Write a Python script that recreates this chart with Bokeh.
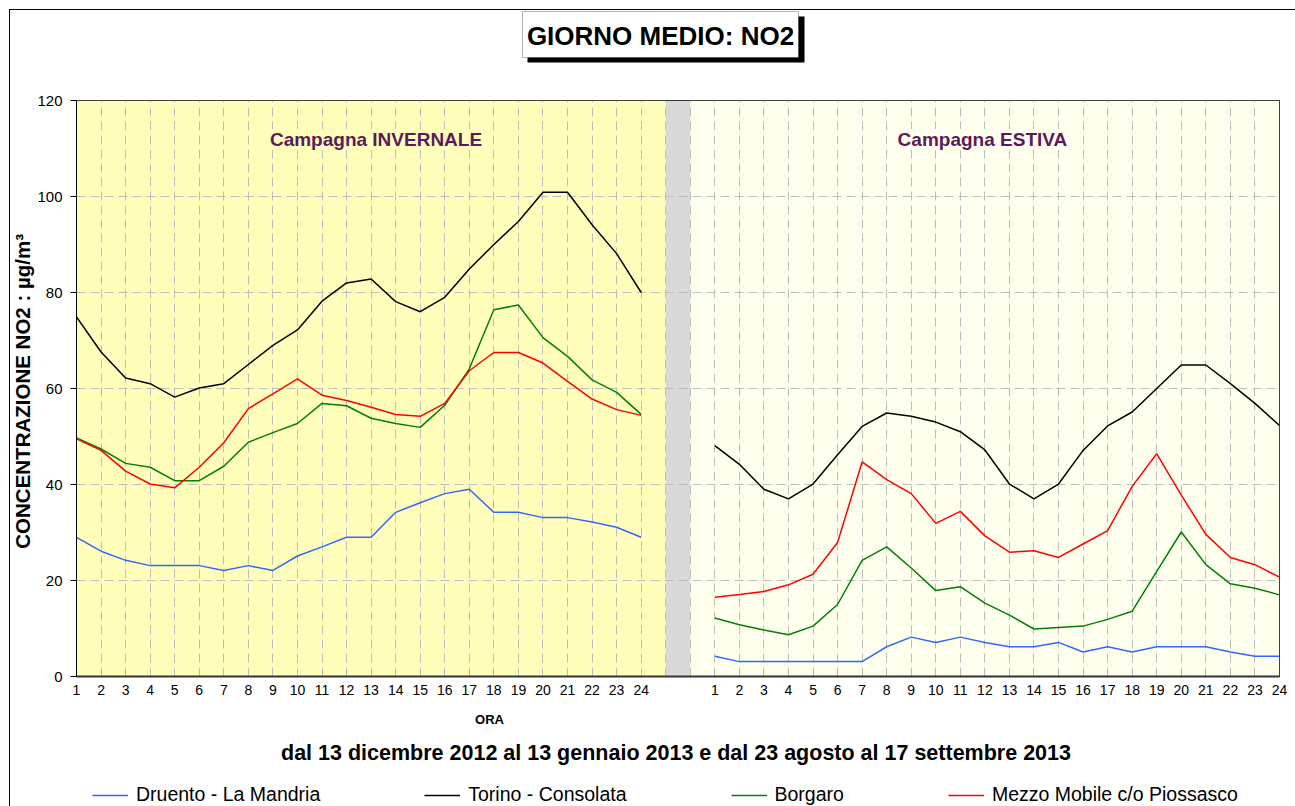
import math
from bokeh.plotting import figure
from bokeh.layouts import column
from bokeh.models import (Range1d, FixedTicker, Label, Legend, LegendItem, BoxAnnotation)
from bokeh.embed import file_html
from bokeh.resources import INLINE

# ---------------- data ----------------
hours = [str(h) for h in range(1, 25)]
y_ticks = [0, 20, 40, 60, 80, 100, 120]

series_names = ["Druento - La Mandria", "Torino - Consolata", "Borgaro",
                "Mezzo Mobile c/o Piossasco"]
series_colors = ["#3366FF", "#000000", "#008000", "#FF0000"]

winter_druento = [29.0, 26.1, 24.2, 23.1, 23.1, 23.1, 22.1, 23.1, 22.1, 25.1, 27.0, 29.0,
                  29.0, 34.2, 36.2, 38.1, 39.0, 34.2, 34.2, 33.1, 33.1, 32.2, 31.1, 29.0]
winter_torino = [74.9, 67.6, 62.2, 61.0, 58.2, 60.1, 61.0, 65.0, 69.0, 72.2, 78.2, 82.0,
                 82.8, 78.1, 76.0, 79.0, 84.9, 90.0, 94.8, 100.9, 100.9, 94.1, 88.1, 80.0]
winter_borgaro = [49.7, 47.4, 44.4, 43.6, 40.8, 40.8, 43.8, 48.8, 50.8, 52.7, 56.9, 56.4,
                  53.8, 52.7, 51.9, 56.5, 64.1, 76.4, 77.4, 70.6, 66.7, 61.8, 59.2, 54.6]
winter_piossasco = [49.5, 47.1, 42.8, 40.1, 39.3, 43.6, 48.7, 55.8, 58.9, 62.0, 58.6, 57.5,
                    56.1, 54.6, 54.2, 56.9, 63.7, 67.5, 67.5, 65.3, 61.5, 57.8, 55.6, 54.4]

summer_druento = [4.2, 3.1, 3.1, 3.1, 3.1, 3.1, 3.1, 6.2, 8.2, 7.1, 8.2, 7.1,
                  6.2, 6.2, 7.1, 5.1, 6.2, 5.1, 6.2, 6.2, 6.2, 5.1, 4.2, 4.2]
summer_torino = [48.1, 44.2, 39.0, 37.0, 40.1, 46.2, 52.1, 54.9, 54.2, 53.0, 51.0, 47.2,
                 40.1, 37.0, 40.1, 47.1, 52.2, 55.1, 60.0, 64.9, 64.9, 61.0, 56.9, 52.3]
summer_borgaro = [12.2, 10.8, 9.7, 8.7, 10.5, 15.0, 24.2, 27.0, 22.6, 17.9, 18.7, 15.3,
                  12.8, 9.9, 10.2, 10.5, 11.9, 13.6, 21.9, 30.1, 23.3, 19.3, 18.4, 17.0]
summer_piossasco = [16.5, 17.1, 17.7, 19.1, 21.3, 27.9, 44.7, 41.0, 38.1, 31.9, 34.4, 29.3,
                    25.9, 26.2, 24.8, 27.6, 30.4, 39.6, 46.4, 37.8, 29.6, 24.8, 23.3, 20.7]

winter = [winter_druento, winter_torino, winter_borgaro, winter_piossasco]
summer = [summer_druento, summer_torino, summer_borgaro, summer_piossasco]

# ---------------- positions ----------------
n = len(hours)
gap = 2
s_off = n + gap
last = s_off + n - 1
x_all = list(range(n)) + [n + k for k in range(gap)] + [s_off + i for i in range(n)]
tick_pos = list(range(n)) + [s_off + i for i in range(n)]
overrides = {}
for i, h in enumerate(hours):
    overrides[i] = h
    overrides[s_off + i] = h

FONT = "Liberation Sans"
W = 1295
FRAME_L, FRAME_R = 76, 1279          # plot-area edges (page pixels), shared by the column
HEAD_H, MAIN_H, FOOT_H = 90, 614, 102
LEFT_SHADOW = "inset 9px 0 0 0 white, inset 10px 0 0 0 black"


def blank_fig(h, yr):
    f = figure(width=W, height=h, x_range=Range1d(FRAME_L, FRAME_R), y_range=yr,
               x_axis_type=None, y_axis_type=None, output_backend="svg",
               toolbar_location=None, title=None, min_border=0,
               min_border_left=0, min_border_right=0, min_border_top=0, min_border_bottom=0)
    f.outline_line_color = None
    f.border_fill_color = None
    f.background_fill_color = None
    f.grid.visible = False
    return f

# ---------------- header (title box with shadow) ----------------
head = blank_fig(HEAD_H, Range1d(0, HEAD_H))
head.styles = {"box-shadow": "inset 9px 9px 0 0 white, inset 10px 10px 0 0 black"}
head.add_layout(BoxAnnotation(left=527, right=804, top=HEAD_H - 16, bottom=HEAD_H - 62,
                              fill_color="black", fill_alpha=1, line_color=None))
head.add_layout(BoxAnnotation(left=522, right=798, top=HEAD_H - 11, bottom=HEAD_H - 57,
                              fill_color="white", fill_alpha=1, line_color="black", line_width=1))
head.add_layout(Label(x=660, y=HEAD_H - 35, text="GIORNO MEDIO: NO2", text_align="center",
                      text_baseline="middle", text_font=FONT, text_font_size="26px",
                      text_font_style="bold", text_color="black"))

# ---------------- main chart ----------------
p = figure(width=W, height=MAIN_H, x_range=Range1d(0, last), y_range=Range1d(0, 120),
           output_backend="svg", toolbar_location=None, title=None,
           min_border_left=FRAME_L, min_border_right=W - FRAME_R, min_border_top=10,
           min_border_bottom=28)
p.border_fill_color = None
p.background_fill_color = "white"
p.outline_line_color = "black"
p.outline_line_width = 1
p.styles = {"box-shadow": LEFT_SHADOW}

p.quad(left=[0], right=[n], bottom=[0], top=[120], fill_color="#FFFFBB", line_color=None, level="image")
p.quad(left=[n], right=[n + 1], bottom=[0], top=[120], fill_color="#D9D9D9", line_color=None, level="image")
p.quad(left=[n + 1], right=[last], bottom=[0], top=[120], fill_color="#FFFFEE", line_color=None, level="image")

p.ygrid.ticker = FixedTicker(ticks=y_ticks[1:-1])
p.xgrid.ticker = FixedTicker(ticks=list(range(1, last)))
for g in (p.xgrid, p.ygrid):
    g.grid_line_color = "#BDBDBD"
    g.grid_line_dash = "9 5"
    g.grid_line_width = 1

ya = p.yaxis[0]
ya.ticker = FixedTicker(ticks=y_ticks)
ya.major_tick_out = 6
ya.major_tick_in = 0
ya.minor_tick_line_color = None
ya.axis_line_color = "black"
ya.major_tick_line_color = "black"
ya.major_label_text_font = FONT
ya.major_label_text_font_size = "15px"
ya.major_label_text_color = "black"
ya.major_label_standoff = 8
ya.axis_label = "CONCENTRAZIONE NO2 :  µg/m³"
ya.axis_label_text_font = FONT
ya.axis_label_text_font_style = "bold"
ya.axis_label_text_font_size = "20.5px"
ya.axis_label_text_color = "black"
ya.axis_label_standoff = 0

xa = p.xaxis[0]
xa.ticker = FixedTicker(ticks=tick_pos)
xa.major_label_overrides = overrides
xa.major_tick_line_color = None
xa.minor_tick_line_color = None
xa.major_tick_out = 0
xa.major_tick_in = 0
xa.major_label_standoff = 8
xa.major_label_text_font = FONT
xa.major_label_text_font_size = "14px"
xa.major_label_text_color = "black"
xa.axis_line_color = "#333333"
xa.axis_line_width = 2

for name, color, w, s in zip(series_names, series_colors, winter, summer):
    p.line(x_all, w + [math.nan] * gap + s, line_color=color, line_width=1.5)

for xc, txt, bg in ((12.2, "Campagna INVERNALE", "#FFFFBB"), (36.9, "Campagna ESTIVA", "#FFFFEE")):
    p.add_layout(Label(x=xc, y=111.9, text=txt, text_align="center", text_baseline="middle",
                       text_font=FONT, text_font_size="19px", text_font_style="bold",
                       text_color="#5C1A5C", background_fill_color=bg))

# ---------------- footer (axis title, period, legend) ----------------
# the series are drawn again here, outside the visible y-range, only to feed the legend
foot = blank_fig(FOOT_H, Range1d(1000, 1001))
foot.styles = {"box-shadow": LEFT_SHADOW}
foot_x = [FRAME_L + v for v in x_all]
items = []
for name, color, w, s in zip(series_names, series_colors, winter, summer):
    r = foot.line(foot_x, w + [math.nan] * gap + s, line_color=color, line_width=1.5)
    items.append(LegendItem(label=name, renderers=[r]))

foot.add_layout(Label(x=489, y=FOOT_H - 15, x_units="data", y_units="screen", text="ORA",
                      text_align="center", text_baseline="middle", text_font=FONT,
                      text_font_size="13px", text_font_style="bold", text_color="black"))
foot.add_layout(Label(x=675.5, y=FOOT_H - 48, x_units="data", y_units="screen",
                      text="dal 13 dicembre 2012 al 13 gennaio 2013 e dal 23 agosto al 17 settembre 2013",
                      text_align="center", text_baseline="middle", text_font=FONT,
                      text_font_size="21.5px", text_font_style="bold", text_color="black"))

legend = Legend(items=items, orientation="horizontal", location=(92 - FRAME_L, 0),
                padding=0, margin=0, spacing=104, glyph_width=36, glyph_height=20,
                label_height=20, label_standoff=8, label_text_font=FONT,
                label_text_font_size="19.5px", label_text_color="black",
                border_line_color=None, background_fill_alpha=0)
foot.add_layout(legend)

layout = column(head, p, foot, spacing=0)
open("out.html", "w").write(file_html(layout, INLINE))
